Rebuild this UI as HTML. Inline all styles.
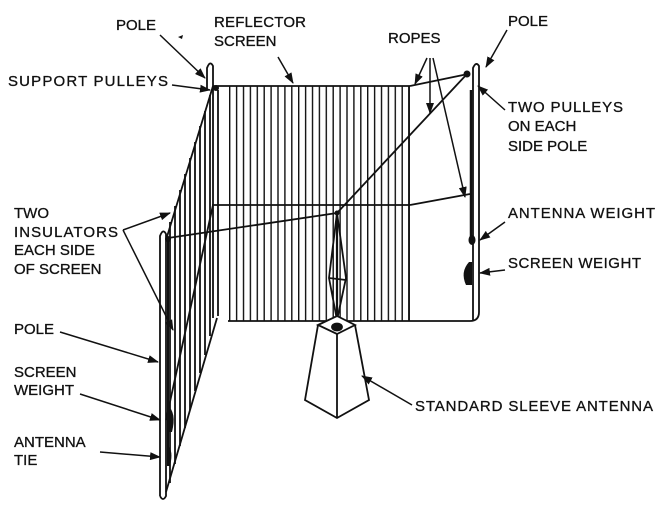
<!DOCTYPE html>
<html><head><style>html,body{margin:0;padding:0;background:#fff}svg{display:block}</style></head>
<body>
<svg width="664" height="512" viewBox="0 0 664 512" xmlns="http://www.w3.org/2000/svg">
<defs>
<pattern id="vl" x="229" y="0" width="6.9" height="10" patternUnits="userSpaceOnUse">
<rect x="0" y="0" width="1.4" height="10" fill="#111"/>
</pattern>
<marker id="ah" markerWidth="11" markerHeight="8" refX="10" refY="4" orient="auto" markerUnits="userSpaceOnUse">
<path d="M0,0 L11,4 L0,8 Z" fill="#111"/>
</marker>
</defs>
<g stroke="#111" fill="none" stroke-width="1.8">
<rect x="228" y="86" width="182" height="235" fill="url(#vl)" stroke="none"/>
<line x1="213" y1="86" x2="410" y2="86"/>
<line x1="228" y1="321" x2="470" y2="321"/>
<line x1="409" y1="86" x2="409" y2="321"/>
<line x1="212" y1="205" x2="410" y2="205"/>
<line x1="410" y1="205" x2="470" y2="194"/>
<line x1="410" y1="86" x2="468" y2="74"/>
<line x1="168" y1="238" x2="337" y2="213"/>
<line x1="337" y1="213" x2="467" y2="74"/>
<path d="M473,320 L473,68 Q476,61 479,66 L479,312 Q479,321 470,321"/>
<line x1="471" y1="90" x2="471" y2="240" stroke-width="2.5"/>
<path d="M207,90 L207,68 Q210,60 213,66 L213,318"/>
<line x1="218" y1="90" x2="218" y2="316"/>
<line x1="170" y1="222" x2="170" y2="483"/>
<line x1="175" y1="206" x2="175" y2="464"/>
<line x1="180" y1="190" x2="180" y2="446"/>
<line x1="185" y1="174" x2="185" y2="428"/>
<line x1="190" y1="158" x2="190" y2="410"/>
<line x1="195" y1="142" x2="195" y2="391"/>
<line x1="200" y1="126" x2="200" y2="373"/>
<line x1="205" y1="111" x2="205" y2="355"/>
<line x1="210" y1="95" x2="210" y2="336"/>
<line x1="213" y1="86" x2="166" y2="240"/>
<line x1="217" y1="318" x2="166" y2="492"/>
<line x1="213" y1="205" x2="166" y2="420"/>
<path d="M160,496 L160,236 Q163,228 166,234 L166,496 Q163,502 160,496"/>
<line x1="168" y1="240" x2="168" y2="460" stroke-width="2"/>
<path d="M337,213 L329,278 L337,320 L346,278 Z"/>
<line x1="329" y1="278" x2="346" y2="280"/>
<line x1="337" y1="213" x2="337" y2="320" stroke-width="2.2"/>
<path d="M318,325 L337,316 L355,325 L337,334 Z" fill="#fff"/>
<ellipse cx="337" cy="327" rx="5" ry="3.5" fill="#111"/>
<path d="M318,325 L305,400 L337,418 L369,400 L355,325"/>
<line x1="337" y1="334" x2="337" y2="418"/>
</g>
<g fill="#111">
<ellipse cx="472" cy="240" rx="3.5" ry="5"/>
<path d="M469,262 Q460,272 466,285 L472,285 L472,262 Z"/>
<path d="M167,405 Q177,412 172,432 L167,432 Z"/>
<path d="M167,445 Q174,450 170,466 L167,466 Z"/>
<circle cx="216" cy="88" r="3"/>
<circle cx="467" cy="74" r="3.5"/>
<circle cx="168" cy="239" r="3"/>
<circle cx="337" cy="213" r="2.5"/>
<path d="M178,37 l5,-2 l-1,4 z"/>
</g>
<g stroke="#111" stroke-width="1.5" fill="none" marker-end="url(#ah)">
<line x1="160" y1="35" x2="205" y2="78"/>
<line x1="172" y1="85" x2="210" y2="90"/>
<line x1="278" y1="57" x2="293" y2="83"/>
<line x1="427" y1="58" x2="415" y2="84"/>
<line x1="430" y1="58" x2="430" y2="113"/>
<line x1="433" y1="58" x2="465" y2="197"/>
<line x1="507" y1="30" x2="486" y2="67"/>
<line x1="505" y1="110" x2="478" y2="86"/>
<line x1="505" y1="222" x2="480" y2="240"/>
<line x1="505" y1="270" x2="480" y2="273"/>
<line x1="123" y1="230" x2="170" y2="213"/>
<line x1="123" y1="230" x2="173" y2="330"/>
<line x1="60" y1="332" x2="158" y2="362"/>
<line x1="80" y1="394" x2="160" y2="420"/>
<line x1="100" y1="452" x2="160" y2="457"/>
<line x1="412" y1="405" x2="362" y2="376"/>
</g>
<g font-family="Liberation Sans, sans-serif" font-size="15" fill="#111" stroke="#111" stroke-width="0.3">
<text x="116" y="30">POLE</text>
<text x="214" y="27" textLength="92">REFLECTOR</text>
<text x="214" y="46">SCREEN</text>
<text x="388" y="43">ROPES</text>
<text x="508" y="26">POLE</text>
<text x="8" y="86" textLength="160">SUPPORT PULLEYS</text>
<text x="508" y="112" textLength="115">TWO PULLEYS</text>
<text x="508" y="131">ON EACH</text>
<text x="508" y="151">SIDE POLE</text>
<text x="14" y="218">TWO</text>
<text x="14" y="237" textLength="104">INSULATORS</text>
<text x="14" y="255">EACH SIDE</text>
<text x="14" y="274">OF SCREEN</text>
<text x="508" y="218" textLength="147">ANTENNA WEIGHT</text>
<text x="508" y="268" textLength="133">SCREEN WEIGHT</text>
<text x="14" y="334">POLE</text>
<text x="14" y="377">SCREEN</text>
<text x="14" y="395">WEIGHT</text>
<text x="14" y="447">ANTENNA</text>
<text x="14" y="465">TIE</text>
<text x="415" y="411" textLength="238">STANDARD SLEEVE ANTENNA</text>
</g>
</svg>
</body></html>
